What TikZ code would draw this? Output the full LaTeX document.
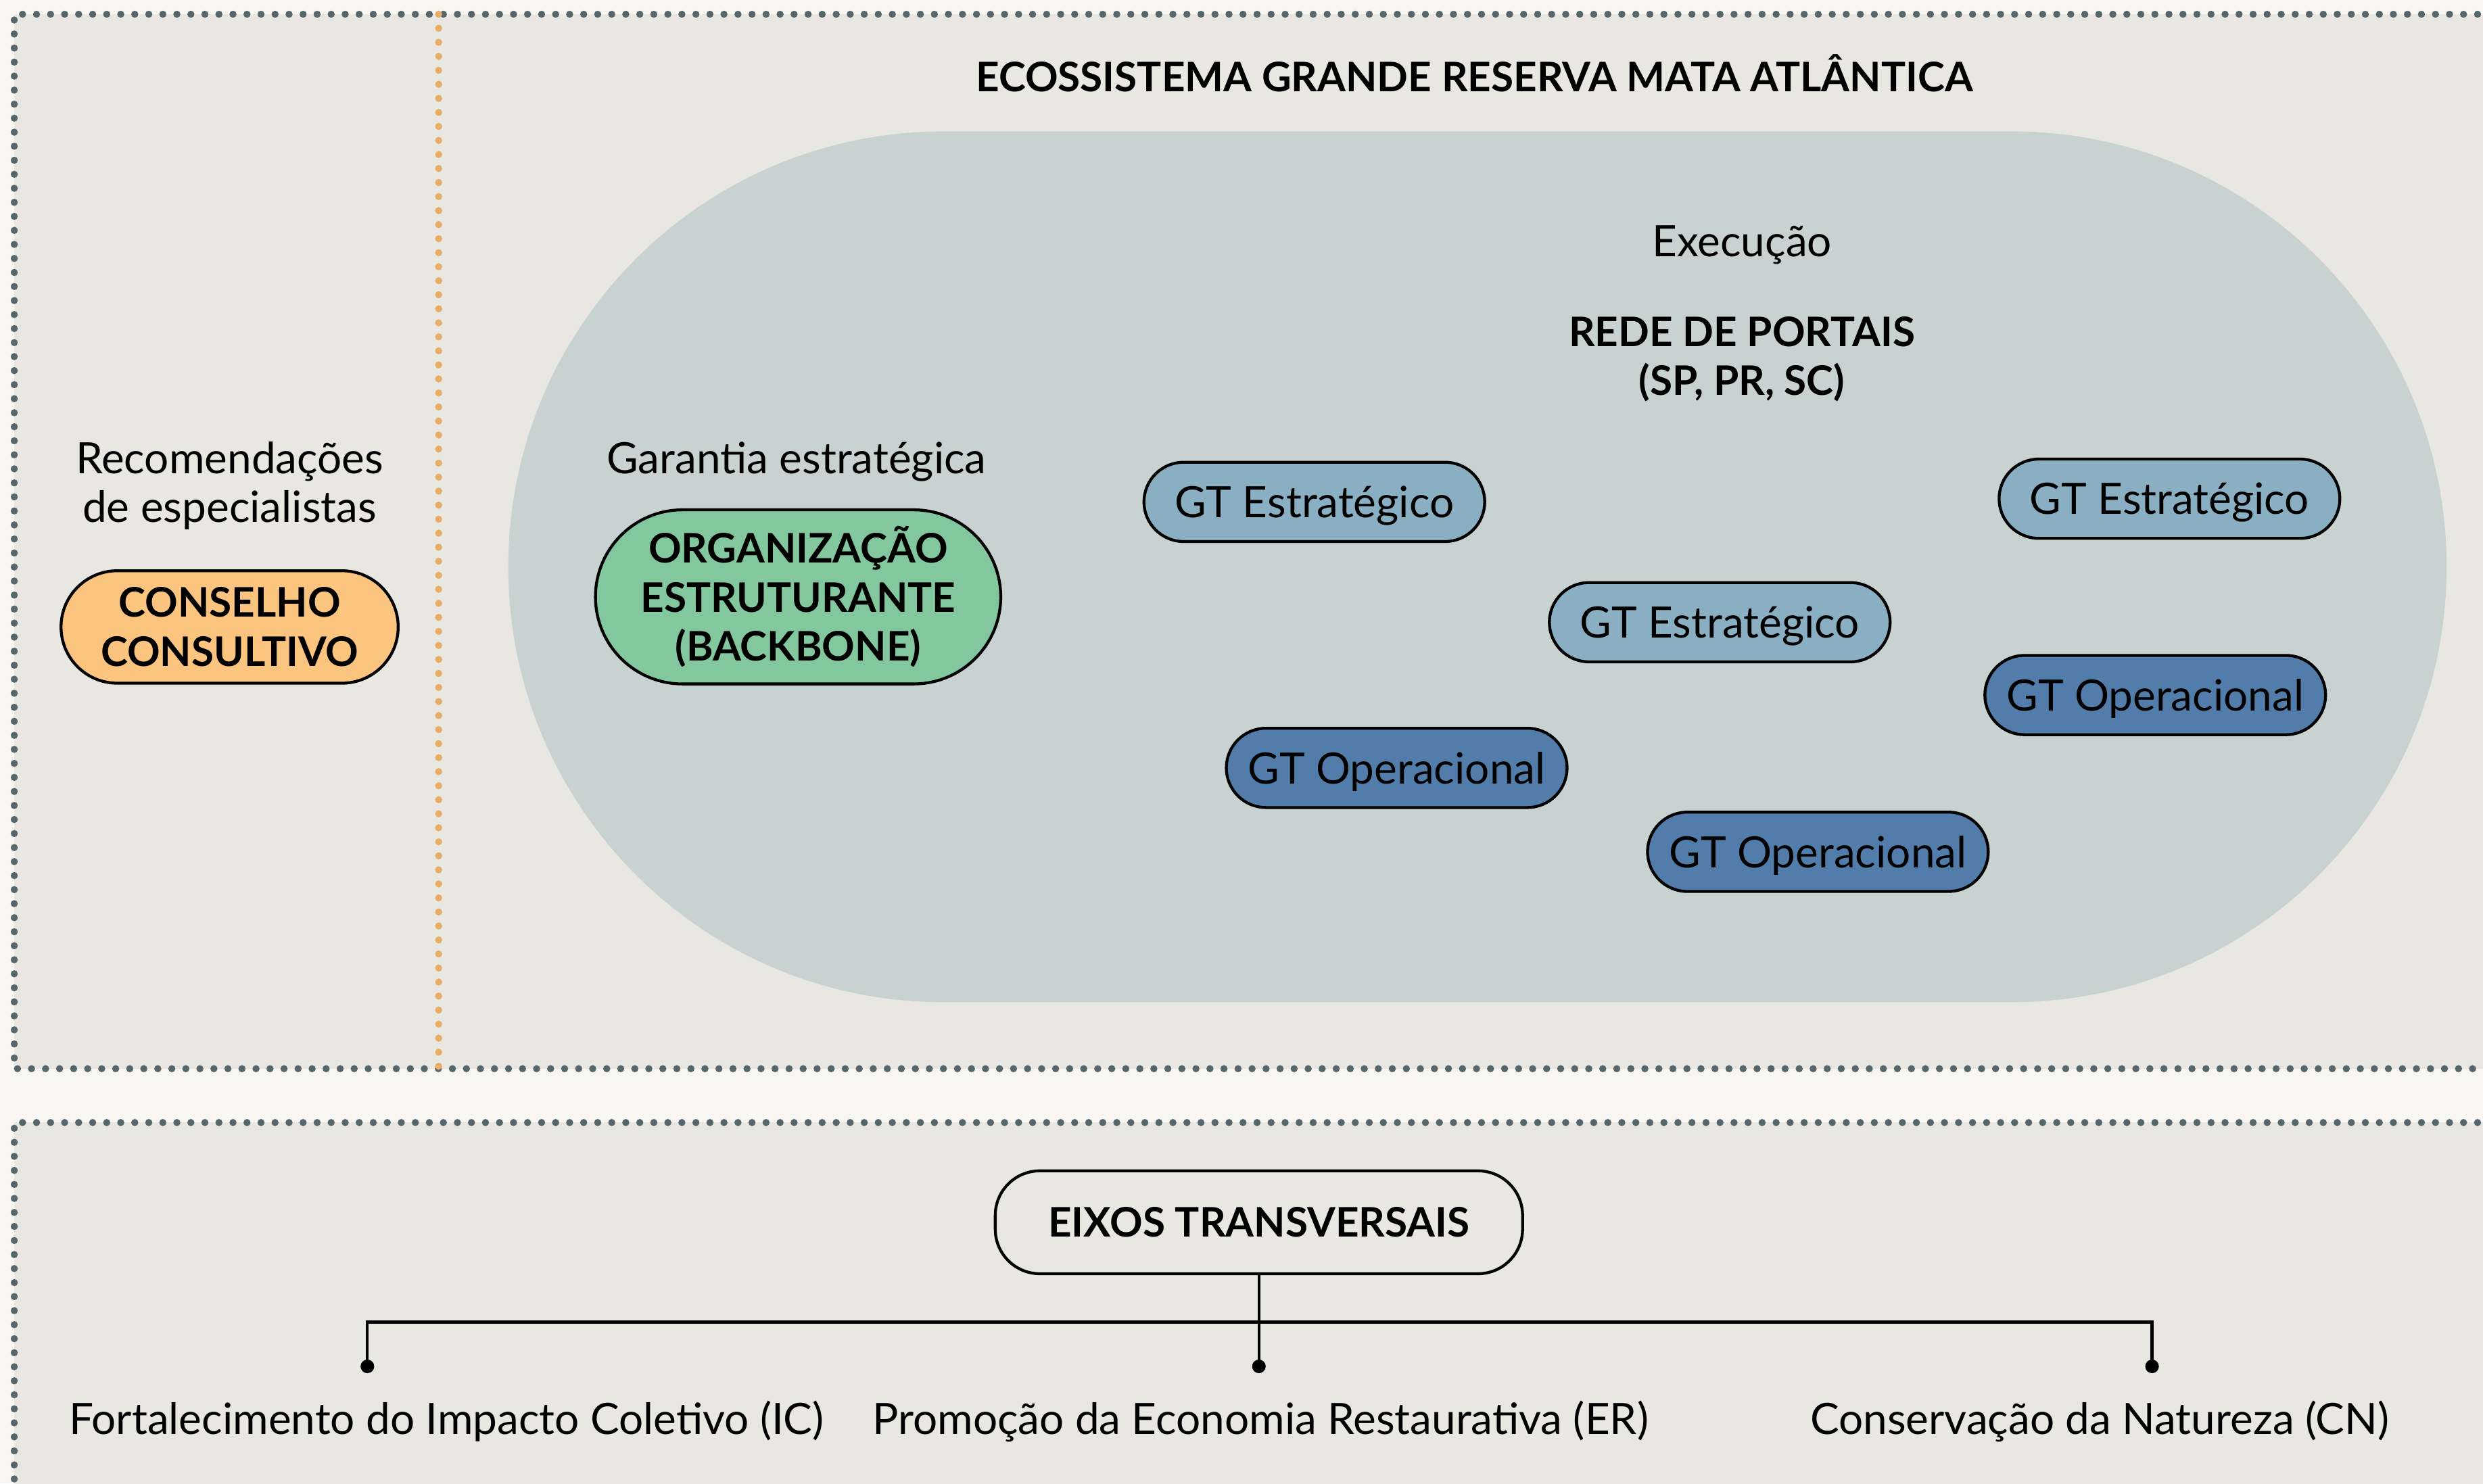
\documentclass[tikz,border=0pt]{standalone}
\usepackage{fontspec}
\setmainfont{Lato}
\usetikzlibrary{positioning, shapes.misc}

\definecolor{papel}{HTML}{F8F6F0}
\definecolor{painel}{HTML}{E8E7E2}
\definecolor{pontos}{HTML}{56666A}
\definecolor{laranja}{HTML}{E8AE68}
\definecolor{reserva}{HTML}{C8D2D1}
\definecolor{conselho}{HTML}{FBC580}
\definecolor{backbone}{HTML}{82C79E}
\definecolor{gtclaro}{HTML}{8BAFC2}
\definecolor{gtescuro}{HTML}{527DAA}

\newcommand{\txt}{\fontsize{19.4pt}{22pt}\selectfont}
\newcommand{\txtb}{\fontsize{18.3pt}{22pt}\selectfont\bfseries}

\begin{document}
\begin{tikzpicture}[x=0.025cm, y=-0.025cm,
    pontilhado/.style={draw=pontos, line width=3.2pt, line cap=round, dash pattern=on 0pt off 6.3pt},
    pilula/.style={rounded rectangle, draw=black, line width=1.3pt, inner sep=0pt, align=center},
    gtest/.style={pilula, fill=gtclaro, minimum width=153pt, minimum height=35.6pt, text depth=0pt, font=\txt},
    gtop/.style={pilula, fill=gtescuro, minimum width=153pt, minimum height=35.6pt, text depth=0pt, font=\txt},
    rotulo/.style={align=center, yshift=-2pt, font=\txt},
    ramo/.style={line width=1.3pt}]
          \useasboundingbox[fill=papel] (0,0) rectangle (1568,937);

          % paineis
          \fill[painel] (9,9) rectangle (1600,675);
          \fill[painel] (9,709) rectangle (1600,960);
          \draw[pontilhado] (1600,9) -- (9,9) -- (9,675) -- (1600,675);
          \draw[pontilhado] (1600,709) -- (9,709) -- (9,960);
          \draw[pontilhado, draw=laranja] (277,9) -- (277,677);

          \node[font=\txtb, yshift=-1pt] (titulo) at (931,45) {ECOSSISTEMA GRANDE RESERVA MATA ATLÂNTICA};

          \fill[reserva, rounded corners=195.5pt] (321,83) rectangle (1545,633);

          % conselho
          \node[rotulo] (recomend) at (145,304) {Recomendações\\de especialistas};
          \node[pilula, fill=conselho, minimum width=151.4pt, minimum height=50.5pt, font=\txtb] (conselho) at (145,396) {CONSELHO\\CONSULTIVO};

          % backbone
          \node[rotulo] (garantia) at (503,289) {Garantia estratégica};
          \node[pilula, fill=backbone, minimum width=182pt, minimum height=78.2pt, font=\txtb] (backbone) at (504,377) {ORGANIZAÇÃO\\ESTRUTURANTE\\(BACKBONE)};

          % rede de portais
          \node[rotulo] (execucao) at (1100,152) {Execução};
          \node[font=\txtb, align=center, yshift=-2pt] (rede) at (1100,224) {REDE DE PORTAIS\\(SP, PR, SC)};

          \node[gtest] (est1) at (830,317) {GT Estratégico};
          \node[gtest] (est2) at (1086,393) {GT Estratégico};
          \node[gtest] (est3) at (1370,315) {GT Estratégico};
          \node[gtop] (op1) at (882,485) {GT Operacional};
          \node[gtop] (op2) at (1148,538) {GT Operacional};
          \node[gtop] (op3) at (1361,439) {GT Operacional};

          % eixos transversais
          \node[draw=black, line width=1.3pt, rounded corners=20pt, minimum width=236.8pt, minimum height=46.2pt, inner sep=0pt, font=\txtb] (eixos) at (795,772) {EIXOS TRANSVERSAIS};
          \coordinate (ic) at (232,863);
          \coordinate (er) at (795,863);
          \coordinate (cn) at (1359,863);
          \draw[ramo] (eixos) -- (er);
          \draw[ramo] (ic) -- ++(0,-28) -| (cn);
          \foreach \p in {ic, er, cn}
              \fill (\p) circle (4.3);

          \node[rotulo] (ictxt) at (282,895) {Fortalecimento do Impacto Coletivo (IC)};
          \node[rotulo] (ertxt) at (796,895) {Promoção da Economia Restaurativa (ER)};
          \node[rotulo] (cntxt) at (1326,895) {Conservação da Natureza (CN)};
    \end{tikzpicture}
\end{document}
